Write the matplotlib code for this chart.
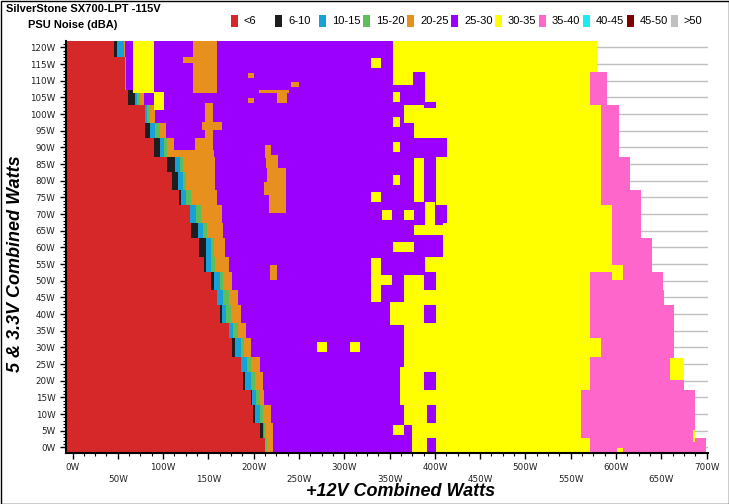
import numpy as np
import matplotlib
matplotlib.use("Agg")
import matplotlib.pyplot as plt
from matplotlib.colors import ListedColormap
from matplotlib.patches import Rectangle

# ---------------- data ----------------
class_labels = ['<6', '6-10', '10-15', '15-20', '20-25', '25-30', '30-35', '35-40', '40-45', '45-50', '>50']
class_colors = ['#D62828', '#1E1E1E', '#18A0D8', '#5CBF5C', '#E8901E', '#9B00FF',
                '#FFFF00', '#FF66CC', '#18ECF4', '#7F0000', '#C0C0C0']

# rows of the 5 & 3.3V load (W)
row_loads = [0, 5, 10, 15, 20, 25, 30, 35, 40, 45, 50, 55, 60,
             65, 70, 75, 80, 85, 90, 95, 100, 105, 110, 115, 120]
# +12V load (W) where each noise class ends, per row
red_end    = [213, 208, 200, 197, 189, 186, 176, 173, 163, 160, 153, 146, 140,
              131, 130, 118, 110, 105, 90, 81, 80, 62, 58, 58, 46]
black_end  = [213, 211, 202, 199, 191, 186, 180, 173, 165, 160, 157, 148, 148,
              139, 130, 120, 117, 114, 97, 86, 80, 69, 58, 58, 50]
blue_end   = [213, 212, 207, 203, 197, 193, 186, 178, 170, 167, 163, 153, 153,
              144, 137, 126, 122, 119, 101, 92, 83, 72, 58, 58, 57]
green_end  = [215, 214, 211, 207, 202, 198, 190, 183, 175, 173, 167, 158, 157,
              149, 142, 131, 126, 122, 105, 97, 86, 75, 58, 58, 57]
orange_end = [222, 222, 220, 212, 211, 207, 197, 192, 187, 183, 177, 173, 169,
              167, 165, 160, 158, 158, 112, 104, 91, 79, 60, 60, 58]
purple_end = [401.7, 374.8, 401.7, 362, 401.7, 365.5, 365.5, 365.5, 401.7, 365.5, 401.7, 389.5, 409,
              409, 413.5, 401.7, 401.7, 401.7, 413.5, 376.6, 365.5, 389.5, 389.5, 354, 354]
yellow_end = [572, 562, 562, 562, 572, 572, 584, 572, 572, 572, 572, 596, 596,
              596, 596, 584, 584, 584, 584, 584, 584, 572, 572, 580, 580]
pink_end   = [700, 688, 688, 688, 676, 664, 664, 664, 664, 652.5, 652, 640, 640,
              628, 628, 628, 616, 616, 604, 604, 604, 591, 591, 580, 580]

# islands (x0, x1, y0, y1) in watts
yellow_islands = [(66.5, 90, 106.3, 122.5), (90, 102, 101.3, 106.8), (329.5, 340.5, 113.6, 116.6),
                  (354, 376, 108.7, 114.7), (354, 362, 103.7, 106.7), (354, 362, 96.4, 99.2),
                  (354, 362, 88.7, 91.7), (376.6, 388.4, 73.6, 86.7), (354, 362, 78.7, 81.7),
                  (329.5, 340.5, 73.7, 76.7), (389.5, 401, 66.7, 73.6), (341.6, 352.7, 68.5, 71.5),
                  (365.5, 376.6, 68.5, 71.5), (376.6, 409, 63.7, 66.7), (354, 376.6, 58.7, 61.7),
                  (329.5, 340.5, 43.7, 56.7), (329.5, 352.7, 48.8, 51.7), (365.5, 388.4, 46.8, 51.7),
                  (351, 388.4, 36.7, 43.7), (270, 281, 28.6, 31.6), (306.6, 317.7, 28.6, 31.6),
                  (362, 388, 16.6, 24.2), (365.5, 392, 6.7, 13.6), (354, 365.5, 3.7, 6.7),
                  (374.8, 392, -3, 3.7), (660, 676, 20.2, 26.8), (601, 608, -3, 0),
                  (596, 608, 50.2, 54.7), (684.5, 688, 1.7, 5.2)]
purple_islands = [(388.4, 401.7, 101.7, 103.7)]
orange_islands = [(122.4, 133.5, 115.3, 117.3), (133.5, 159.3, 106.3, 122.5),
                  (146.4, 155.6, 88.8, 103.3), (142.8, 164.9, 95.3, 97.8), (135.4, 155.6, 88.9, 92.8),
                  (110, 157, 87.5, 89.2), (213, 220, 87, 91), (214, 227, 84, 88), (215, 236, 80, 84),
                  (212, 236, 76, 80), (217, 236, 70.3, 76), (218, 225.6, 50.3, 54.8),
                  (206, 240, 106.3, 107.3), (225.6, 236.7, 103.3, 107.3), (242, 249.5, 108.3, 109.8),
                  (194, 201, 110.8, 112.3), (194, 201, 103.3, 104.8)]

y_ticks = list(range(0, 121, 5))
x_ticks = list(range(0, 701, 50))

# ---------------- build class grid ----------------
xc = np.arange(-7.0, 702.0, 1.0)
yc = np.arange(-2.0, 122.5, 0.5)
X, Y = np.meshgrid(xc, yc)
ri = np.clip(np.round(Y / 5.0).astype(int), 0, len(row_loads) - 1)
bounds = [red_end, black_end, blue_end, green_end, orange_end, purple_end, yellow_end, pink_end]
cls = np.full(X.shape, -1)
for k in reversed(range(len(bounds))):
    b = np.asarray(bounds[k], dtype=float)[ri]
    cls[X < b] = k
for isl, k in ((yellow_islands, 6), (purple_islands, 5), (orange_islands, 4)):
    for (x0, x1, y0, y1) in isl:
        cls[(X >= x0) & (X < x1) & (Y >= y0) & (Y < y1)] = k

# ---------------- figure ----------------
fig = plt.figure(figsize=(7.29, 5.04), dpi=100)
ax = fig.add_axes([66 / 729, 51 / 504, 642 / 729, 412 / 504])

cmap = ListedColormap(class_colors)
ax.imshow(np.ma.masked_less(cls, 0), cmap=cmap, vmin=-0.5, vmax=len(class_colors) - 0.5,
          origin='lower', extent=(xc[0] - 0.5, xc[-1] + 0.5, yc[0] - 0.25, yc[-1] + 0.25),
          interpolation='nearest', aspect='auto', zorder=1)

ax.set_xlim(-7.2, 701.5)
ax.set_ylim(-1.65, 121.9)
ax.set_axisbelow(True)
ax.yaxis.grid(True, color='#C0C0C0', lw=1.0)

for s in ('top', 'right'):
    ax.spines[s].set_visible(False)
for s in ('left', 'bottom'):
    ax.spines[s].set_linewidth(1.5)
    ax.spines[s].set_zorder(3)

ax.set_yticks(y_ticks)
ax.set_yticklabels([f"{v}W" for v in y_ticks])
ax.set_yticks(np.arange(0, 122, 1), minor=True)
ax.set_xticks(x_ticks)
ax.set_xticklabels([(f"{v}W" if (v // 50) % 2 == 0 else f"\n{v}W") for v in x_ticks],
                   linespacing=1.5)
ax.set_xticks(np.arange(0, 701, 12.5), minor=True)
ax.tick_params(axis='both', which='major', labelsize=6.3, labelcolor='#222222', length=4, width=1)
ax.tick_params(axis='both', which='minor', length=2, width=0.8)
ax.tick_params(axis='x', which='major', pad=3)
for lab in ax.get_xticklabels() + ax.get_yticklabels():
    lab.set_family('DejaVu Sans')

fig.text(401 / 729, 1 - 492 / 504, '+12V Combined Watts', ha='center', va='center',
         fontsize=13, fontweight='bold', fontstyle='italic', family='Liberation Sans')
fig.text(16 / 729, 1 - 264 / 504, '5 & 3.3V Combined Watts', ha='center', va='center',
         rotation=90, fontsize=13, fontweight='bold', fontstyle='italic', family='Liberation Sans')

fig.text(6 / 729, 1 - 9 / 504, 'SilverStone SX700-LPT -115V', ha='left', va='center',
         fontsize=8, fontweight='bold', family='Liberation Sans')
fig.text(28 / 729, 1 - 25 / 504, 'PSU Noise (dBA)', ha='left', va='center',
         fontsize=8, fontweight='bold', family='Liberation Sans')

# legend
for i, (lab, col) in enumerate(zip(class_labels, class_colors)):
    x0 = 231 + i * 44
    fig.add_artist(Rectangle((x0 / 729, 1 - 27 / 504), 7 / 729, 12 / 504,
                             transform=fig.transFigure, facecolor=col, edgecolor='none'))
    fig.text((x0 + 13) / 729, 1 - 21 / 504, lab, ha='left', va='center', fontsize=8,
             family='Liberation Sans')

fig.add_artist(Rectangle((0.5 / 729, 0.5 / 504), 728 / 729, 503 / 504, transform=fig.transFigure,
                         fill=False, edgecolor='#000000', lw=1.0))

fig.savefig('out.png', dpi=100)
